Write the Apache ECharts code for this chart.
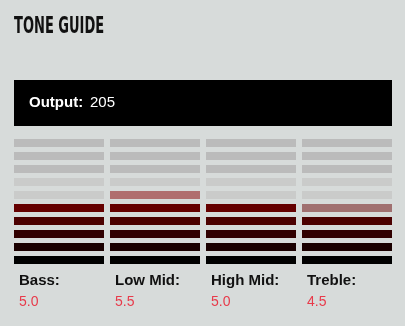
<!DOCTYPE html>
<html>
<head>
<meta charset="utf-8">
<script src="https://cdn.jsdelivr.net/npm/echarts@6/dist/echarts.min.js"></script>
<style>
  html, body { margin: 0; padding: 0; background: #d7dbda; }
  #main { width: 405px; height: 326px; }
</style>
</head>
<body>
<div id="main"></div>
<script>
// tone bands and their levels (0 - 10)
var bands = ['Bass', 'Low Mid', 'High Mid', 'Treble']
var levels = [5.0, 5.5, 5.0, 4.5]
var segments = 10
var output = 205

// segment colours, bottom segment first
var onColors = ['#000000', '#1a0000', '#310000', '#4b0000', '#650000', '#7f0000', '#980000', '#b20000', '#cb0000', '#e50000']
var halfColors = ['#6e6e6e', '#786e6e', '#846e6e', '#926e6e', '#a07070', '#b06e6e', '#bb6e6e', '#c46c6c', '#cc6a6a', '#d46868']
var offColors = ['#cacbca', '#cacbca', '#cacbca', '#cacbca', '#cacbca', '#cacbca', '#cacbca', '#bbbbbb', '#bbbbbb', '#bbbbbb']

var chart = echarts.init(document.getElementById('main'))

function renderItem (params, api) {
  var idx = params.dataIndex
  var v = api.value(1)
  var band = api.size([1, 0])[0]
  var unit = api.size([0, 1])[1]
  var w = band - 6
  var x = api.coord([idx, 0])[0] - w / 2
  var base = api.coord([idx, 0])[1]
  var children = []
  for (var i = 0; i < segments; i++) {
    var y0 = api.coord([idx, i])[1]
    var fill = offColors[i]
    if (i < Math.floor(v)) fill = onColors[i]
    else if (i < v) fill = halfColors[i]
    children.push({
      type: 'rect',
      shape: { x: x, y: y0 - unit + 5, width: w, height: unit - 5 },
      style: { fill: fill }
    })
  }
  children.push({
    type: 'text',
    x: x + 5,
    y: base + 17,
    style: {
      text: bands[idx] + ':',
      fill: '#111',
      font: 'bold 15px "Liberation Sans", Arial, sans-serif',
      verticalAlign: 'middle'
    }
  })
  children.push({
    type: 'text',
    x: x + 5,
    y: base + 38,
    style: {
      text: v.toFixed(1),
      fill: '#e83a4a',
      font: '14px "Liberation Sans", Arial, sans-serif',
      verticalAlign: 'middle'
    }
  })
  return { type: 'group', children: children }
}

chart.setOption({
  backgroundColor: '#d7dbda',
  animation: false,
  grid: { left: 11, right: 10, top: 134, bottom: 62 },
  xAxis: {
    type: 'category',
    data: bands,
    show: false
  },
  yAxis: {
    type: 'value',
    min: 0,
    max: segments,
    show: false
  },
  graphic: [
    {
      type: 'text',
      left: 14,
      top: 16,
      scaleX: 0.63,
      style: {
        text: 'TONE GUIDE',
        fill: '#111',
        font: 'bold 23px "DejaVu Sans Condensed", "Liberation Sans", sans-serif'
      }
    },
    {
      type: 'rect',
      shape: { x: 14, y: 80, width: 378, height: 46 },
      style: { fill: '#000' }
    },
    {
      type: 'text',
      x: 29,
      y: 103,
      style: {
        text: 'Output:',
        fill: '#fff',
        font: 'bold 15px "Liberation Sans", Arial, sans-serif',
        verticalAlign: 'middle'
      }
    },
    {
      type: 'text',
      x: 90,
      y: 103,
      style: {
        text: String(output),
        fill: '#fff',
        font: '15px "Liberation Sans", Arial, sans-serif',
        verticalAlign: 'middle'
      }
    }
  ],
  series: [
    {
      type: 'custom',
      renderItem: renderItem,
      data: levels.map(function (v, i) { return [i, v] })
    }
  ]
})
</script>
</body>
</html>
